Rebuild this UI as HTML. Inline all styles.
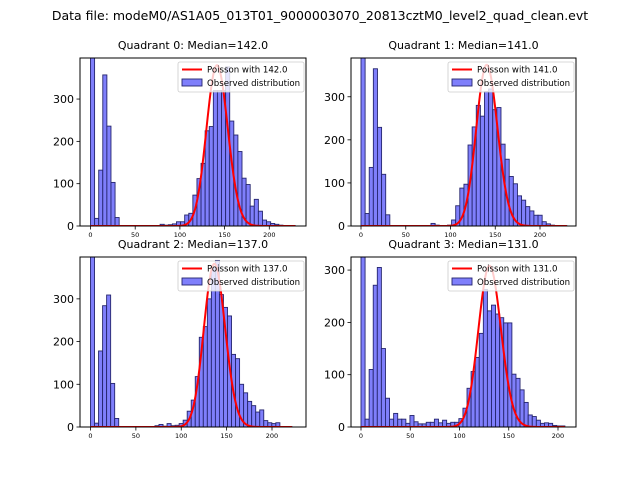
<!DOCTYPE html>
<html><head><meta charset="utf-8"><style>
body{margin:0;background:#fff;}
svg{display:block;font-family:"DejaVu Sans","Liberation Sans",sans-serif;}
</style></head><body>
<svg id="fig" width="640" height="480" xmlns="http://www.w3.org/2000/svg">
<rect width="640" height="480" fill="#fff"/>
<text x="320" y="20" text-anchor="middle" font-size="12.5">Data file: modeM0/AS1A05_013T01_9000003070_20813cztM0_level2_quad_clean.evt</text>
</svg>
<script>
// ---- data ----
const medians = [142, 141, 137, 131];
const binWidths = [4.58, 4.6, 4.44, 4.14];
const counts0 = [420,18,132,357,236,103,20,0,0,0,0,0,0,0,0,0,0,4,2,3,5,10,10,26,30,73,112,148,225,235,320,320,320,376,248,215,176,113,98,47,63,35,14,10,6,4,2,1,1,1];
const counts1 = [420,29,136,365,229,120,26,0,0,0,0,0,0,0,0,0,0,6,2,0,0,2,14,47,88,97,188,230,280,255,312,318,270,275,190,155,115,98,70,60,45,35,25,25,10,5,2,1,1,1];
const counts2 = [420,9,178,284,309,102,20,0,0,0,0,0,0,0,0,0,3,6,2,8,3,4,8,16,37,63,118,210,235,300,375,390,310,280,260,170,160,100,80,60,50,35,40,15,10,8,10,0,0,1];
const counts3 = [340,15,110,271,305,150,55,15,26,15,15,7,22,10,6,6,9,9,15,8,13,7,9,9,16,36,74,106,133,179,263,222,233,216,209,199,199,101,93,71,47,23,20,13,7,8,7,3,2,2];
const poissonPeaks = [380, 374, 382, 308];
const xTicks = [0, 50, 100, 150, 200];
const yTicks = [0, 100, 200, 300];
const allCounts = [counts0, counts1, counts2, counts3];

// ---- layout ----
const panels = [
 {l:80,r:306,t:58,b:226,x0:90.5,x200:269.3,ymax:397},
 {l:351,r:576,t:58,b:226,x0:361,x200:540,ymax:390},
 {l:80,r:306,t:257,b:427,x0:90.5,x200:272,ymax:398},
 {l:351,r:576,t:257,b:427,x0:361,x200:558,ymax:325}
];
const NS="http://www.w3.org/2000/svg";
const fig=document.getElementById('fig');
function mk(tag,attrs,parent){const e=document.createElementNS(NS,tag);for(const k in attrs)e.setAttribute(k,attrs[k]);(parent||fig).appendChild(e);return e;}
function logFact(n){let s=0;for(let i=2;i<=n;i++)s+=Math.log(i);return s;}

panels.forEach((p,pi)=>{
 const g=mk('g',{});
 
 
 const sx=v=>p.x0+(p.x200-p.x0)*v/200;
 const sy=v=>p.b-(p.b-p.t)*v/p.ymax;
 const cid='clip'+pi;
 const cp=mk('clipPath',{id:cid},g);mk('rect',{x:p.l,y:p.t,width:p.r-p.l,height:p.b-p.t},cp);
 const t=mk('text',{x:(p.l+p.r)/2,y:p.t-9,'text-anchor':'middle','font-size':'11'},g);
 t.textContent='Quadrant '+pi+': Median='+medians[pi].toFixed(1);
 
 
 const bw=binWidths[pi];
 const bars=mk('g',{'clip-path':'url(#'+cid+')'},g);
 allCounts[pi].forEach((c,i)=>{
  if(c<=0)return;
  const x1=sx(i*bw),x2=sx((i+1)*bw);
  const r=mk('rect',{x:x1,y:sy(c),width:x2-x1,height:sy(0)-sy(c),fill:'#7f7ffb',stroke:'#26266e','stroke-width':'0.9'},bars);
  
  
 });
 // poisson curve
 const lam=medians[pi], xmax=50*bw;
 const peakLog=lam*Math.log(lam)-lam-logFact(Math.floor(lam));
 let d='';
 for(let k=0;k<=Math.round(xmax);k++){
  const lp=k*Math.log(lam)-lam-logFact(k);
  const v=poissonPeaks[pi]*Math.exp(lp-peakLog);
  d+=(k?'L':'M')+sx(k).toFixed(2)+','+sy(v).toFixed(2);
 }
 const pl=mk('path',{d:d,fill:'none',stroke:'#ff0000','stroke-width':'2','clip-path':'url(#'+cid+')'},g);
 
 
 // frame
 const fr=mk('rect',{x:p.l,y:p.t,width:p.r-p.l,height:p.b-p.t,fill:'none',stroke:'#000','stroke-width':'1'},g);
 
 
 xTicks.forEach(v=>{
  mk('line',{x1:sx(v),x2:sx(v),y1:p.b,y2:p.b+3.5,stroke:'#000','stroke-width':'0.8'},g);
  const tl=mk('text',{x:sx(v),y:p.b+11,'text-anchor':'middle','font-size':'6.5'},g);
  tl.textContent=v;
  
  
 });
 yTicks.forEach(v=>{
  mk('line',{x1:p.l,x2:p.l-3.5,y1:sy(v),y2:sy(v),stroke:'#000','stroke-width':'0.8'},g);
  const tl=mk('text',{x:p.l-6,y:sy(v)+4,'text-anchor':'end','font-size':'11'},g);
  tl.textContent=v;
  
  
 });
 // legend
 const lg=mk('g',{},g);
 
 
 const lx=p.r-128,ly=p.t+4;
 mk('rect',{x:lx,y:ly,width:126,height:30,rx:2,fill:'#fff','fill-opacity':'0.8',stroke:'#ccc','stroke-width':'0.8'},lg);
 mk('line',{x1:lx+4,x2:lx+24,y1:ly+7.5,y2:ly+7.5,stroke:'#ff0000','stroke-width':'2'},lg);
 const t1=mk('text',{x:lx+29,y:ly+10.5,'font-size':'8.6'},lg);t1.textContent='Poisson with '+medians[pi].toFixed(1);
 
 
 mk('rect',{x:lx+4,y:ly+17,width:20,height:7,fill:'#7f7ffb',stroke:'#26266e','stroke-width':'0.9'},lg);
 const t2=mk('text',{x:lx+29,y:ly+24,'font-size':'8.6'},lg);t2.textContent='Observed distribution';
 
 
});
</script>
</body></html>
